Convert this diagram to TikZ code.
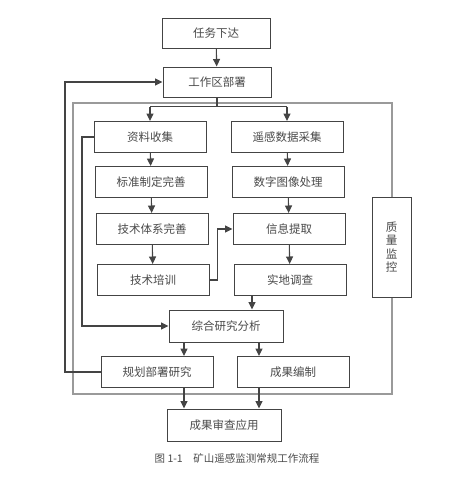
\documentclass[tikz,border=0pt]{standalone}
\usepackage{fontspec}
\setmainfont{Noto Sans CJK SC}
\usetikzlibrary{arrows.meta}
\definecolor{boxline}{HTML}{444444}
\definecolor{frameline}{HTML}{9A9A9A}
\definecolor{boxtext}{HTML}{4A4A4A}
\tikzset{
  flowbox/.style={draw=boxline,line width=1pt,fill=white,minimum width=112pt,minimum height=31pt,text=boxtext,font=\fontsize{11.5}{13}\selectfont},
  flow/.style={draw=boxline,line width=1.1pt,-{Triangle[length=7.5pt,width=7pt]}},
  flowline/.style={draw=boxline,line width=1.1pt}
}
\begin{document}
\begin{tikzpicture}[x=1pt,y=-1pt]
        \useasboundingbox (0,0) rectangle (468,477);
        \draw[frameline,line width=1.5pt] (73,103) rectangle (392,394);
        \node[flowbox,minimum width=108pt,minimum height=30pt] (task) at (216,33) {任务下达};
        \node[flowbox,minimum width=108pt,minimum height=30pt] (deploy) at (217,82) {工作区部署};
        \node[flowbox] (ziliao) at (150,137) {资料收集};
        \node[flowbox] (yaogan) at (287,137) {遥感数据采集};
        \node[flowbox] (biaozhun) at (151,182) {标准制定完善};
        \node[flowbox] (shuzi) at (288,182) {数字图像处理};
        \node[flowbox] (jishu) at (152,229) {技术体系完善};
        \node[flowbox] (xinxi) at (289,229) {信息提取};
        \node[flowbox] (peixun) at (153,280) {技术培训};
        \node[flowbox] (shidi) at (290,280) {实地调查};
        \node[flowbox,minimum width=39pt,minimum height=100pt,align=center,font=\fontsize{11.5}{13.5}\selectfont] (zhiliang) at (391.5,247) {质\\量\\监\\控};
        \node[flowbox,minimum width=114pt,minimum height=32pt] (zonghe) at (226,326) {综合研究分析};
        \node[flowbox] (guihua) at (157,372) {规划部署研究};
        \node[flowbox] (chengguo) at (293,372) {成果编制};
        \node[flowbox,minimum width=114pt,minimum height=32pt] (shencha) at (224,425) {成果审查应用};
        \node[text=boxtext,font=\fontsize{10.5}{12}\selectfont] (caption) at (237,458) {图 1-1\quad 矿山遥感监测常规工作流程};
        \coordinate (fbL) at (65,0);
        \coordinate (fbM) at (82,0);
        \coordinate (colA) at (184,0);
        \coordinate (colB) at (259,0);
        \coordinate (colC) at (252,0);
        \draw[flow] (task) -- (deploy);
        \draw[flowline] (deploy.south) -- ++(0,9) coordinate (split);
        \draw[flowline] (ziliao.north |- split) -- (yaogan.north |- split);
        \draw[flow] (ziliao.north |- split) -- (ziliao.north);
        \draw[flow] (yaogan.north |- split) -- (yaogan.north);
        \draw[flow] (ziliao) -- (biaozhun);
        \draw[flow] (biaozhun) -- (jishu);
        \draw[flow] (jishu) -- (peixun);
        \draw[flow] (yaogan) -- (shuzi);
        \draw[flow] (shuzi) -- (xinxi);
        \draw[flow] (xinxi) -- (shidi);
        \draw[flow] (peixun.east) -- ++(8,0) |- (xinxi.west);
        \draw[flow] (shidi.south -| colC) -- (zonghe.north -| colC);
        \draw[flow] (ziliao.west) -- (ziliao.west -| fbM) |- (zonghe.west);
        \draw[flow] (guihua.west) -- (guihua.west -| fbL) |- (deploy.west);
        \draw[flow] (zonghe.south -| colA) -- (guihua.north -| colA);
        \draw[flow] (zonghe.south -| colB) -- (chengguo.north -| colB);
        \draw[flow,line width=1.4pt] (guihua.south -| colA) -- (shencha.north -| colA);
        \draw[flow,line width=1.4pt] (chengguo.south -| colB) -- (shencha.north -| colB);
    \end{tikzpicture}
\end{document}
